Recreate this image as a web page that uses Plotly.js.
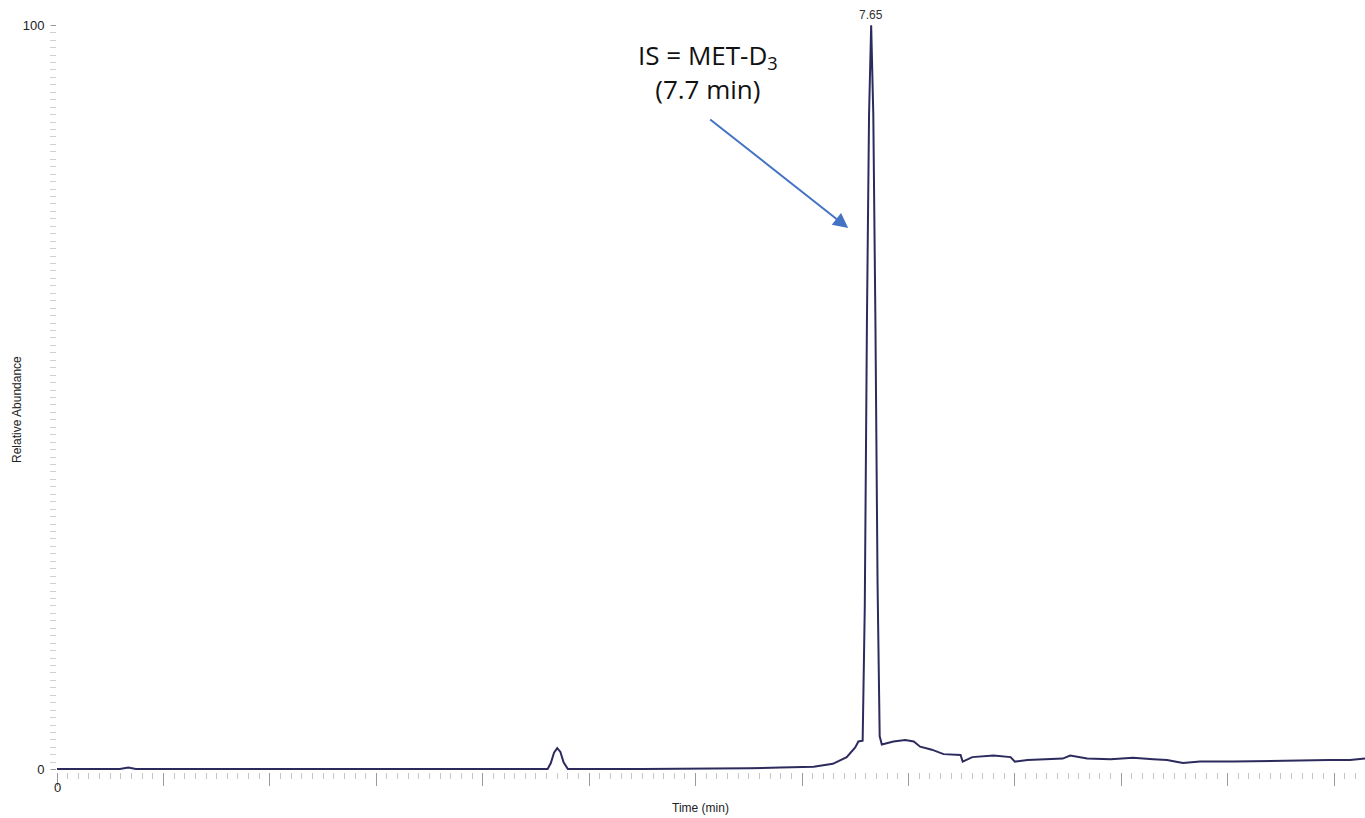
<!DOCTYPE html>
<html>
<head>
<meta charset="utf-8">
<script src="https://cdn.plot.ly/plotly-3.0.1.min.js"></script>
<style>
  html, body { margin: 0; padding: 0; background: #ffffff; }
  #chart { width: 1365px; height: 818px; }
</style>
</head>
<body>
<div id="chart"></div>
<script>
// Chromatogram: retention time (min) vs relative abundance (%)
const timeMin = [
  0.00, 0.59, 0.67, 0.74, 2.00, 3.50, 4.61, 4.64, 4.67, 4.70, 4.73, 4.76, 4.80,
  5.50, 6.18, 6.50, 6.80, 7.11, 7.29, 7.42, 7.50, 7.53, 7.57,
  7.59, 7.61, 7.63, 7.65, 7.67, 7.69, 7.71, 7.73, 7.75,
  7.86, 7.97, 8.05, 8.11, 8.22, 8.33, 8.49, 8.51, 8.60, 8.80,
  8.96, 9.00, 9.12, 9.45, 9.52, 9.68, 9.90, 10.11, 10.30, 10.43, 10.58, 10.74,
  11.05, 11.40, 11.68, 11.95, 12.15, 12.29
];
const abundance = [
  0.1, 0.1, 0.3, 0.1, 0.1, 0.1, 0.1, 0.9, 2.3, 2.9, 2.4, 1.0, 0.1,
  0.1, 0.1, 0.2, 0.3, 0.4, 0.8, 1.7, 3.0, 3.8, 3.9,
  22, 60, 88, 100, 88, 60, 25, 4.5, 3.4,
  3.8, 4.0, 3.8, 3.1, 2.7, 2.1, 2.0, 1.1, 1.7, 1.9,
  1.7, 1.1, 1.3, 1.5, 1.9, 1.5, 1.4, 1.6, 1.4, 1.3, 0.9, 1.1,
  1.1, 1.2, 1.2, 1.3, 1.3, 1.5
];

// Labelled peak and internal-standard callout
const peakTime = 7.65;
const peakAbundance = 100;
const peakLabel = peakTime.toFixed(2);
const calloutText = 'IS = MET-D<sub>3</sub><br>(7.7 min)';
const arrowHead = { t: 7.434, y: 72.75 };

const yTickVals = [0, 100];
const yTickText = ['0', '100'];
const xTickVals = [0];
const xTickText = ['0'];

// plot-area geometry in pixels, used to place free-floating text
const W = 1365, H = 818;
const M = { l: 57, r: 0, t: 22.8, b: 45.8 };
const plotW = W - M.l - M.r;
const plotH = H - M.t - M.b;
const px = (x) => (x - M.l) / plotW;
const py = (y) => (H - M.b - y) / plotH;

const trace = {
  x: timeMin,
  y: abundance,
  type: 'scatter',
  mode: 'lines',
  line: { color: '#2d2b5e', width: 2 },
  hoverinfo: 'x+y'
};

const layout = {
  width: W,
  height: H,
  margin: M,
  paper_bgcolor: '#ffffff',
  plot_bgcolor: '#ffffff',
  showlegend: false,
  font: { family: 'Liberation Sans, Arial, sans-serif', color: '#222222' },
  xaxis: {
    range: [0, 12.29],
    showgrid: false,
    zeroline: false,
    showline: false,
    ticks: 'outside',
    ticklen: 13,
    tickcolor: '#9a9a9a',
    tickwidth: 1,
    dtick: 1,
    tick0: 0,
    showticklabels: false,
    minor: { ticks: 'outside', ticklen: 6, dtick: 0.1, tickcolor: '#c4c4c4', showgrid: false }
  },
  yaxis: {
    range: [-0.3, 100.3],
    showgrid: false,
    zeroline: false,
    showline: false,
    tickvals: yTickVals,
    ticktext: yTickText,
    ticks: 'outside',
    ticklen: 5,
    tickcolor: '#9a9a9a',
    ticklabelstandoff: 4,
    tickfont: { size: 13, color: '#222222' },
    minor: { ticks: 'outside', ticklen: 6, dtick: 1, tickcolor: '#d0d0d0', showgrid: false }
  },
  annotations: [
    // x tick labels drawn below the tick marks
    ...xTickVals.map((v, i) => ({
      x: v, y: 0, xref: 'x', yref: 'y', text: xTickText[i],
      showarrow: false, yshift: -18, font: { size: 13, color: '#222222' }
    })),
    // axis titles
    {
      x: px(700), y: py(808), xref: 'paper', yref: 'paper', text: 'Time (min)',
      showarrow: false, yanchor: 'middle', font: { size: 12, color: '#222222' }
    },
    {
      x: px(17), y: py(410), xref: 'paper', yref: 'paper', text: 'Relative Abundance',
      showarrow: false, textangle: -90, xanchor: 'center', yanchor: 'middle',
      font: { size: 12, color: '#222222' }
    },
    {
      x: peakTime, y: peakAbundance, xref: 'x', yref: 'y',
      text: peakLabel, showarrow: false, yshift: 10,
      font: { size: 12, color: '#333333' }
    },
    {
      x: arrowHead.t, y: arrowHead.y, xref: 'x', yref: 'y',
      text: ' ', showarrow: true, ax: -141, ay: -111, standoff: 0, startstandoff: 0,
      arrowhead: 2, arrowsize: 1.5, arrowwidth: 2, arrowcolor: '#4472c4'
    },
    {
      x: px(708), y: py(72), xref: 'paper', yref: 'paper', text: calloutText,
      showarrow: false, xanchor: 'center', yanchor: 'middle',
      font: { family: 'Open Sans, sans-serif', size: 26, color: '#111111' }
    }
  ]
};

Plotly.newPlot('chart', [trace], layout, { displayModeBar: false, staticPlot: true });
</script>
</body>
</html>
